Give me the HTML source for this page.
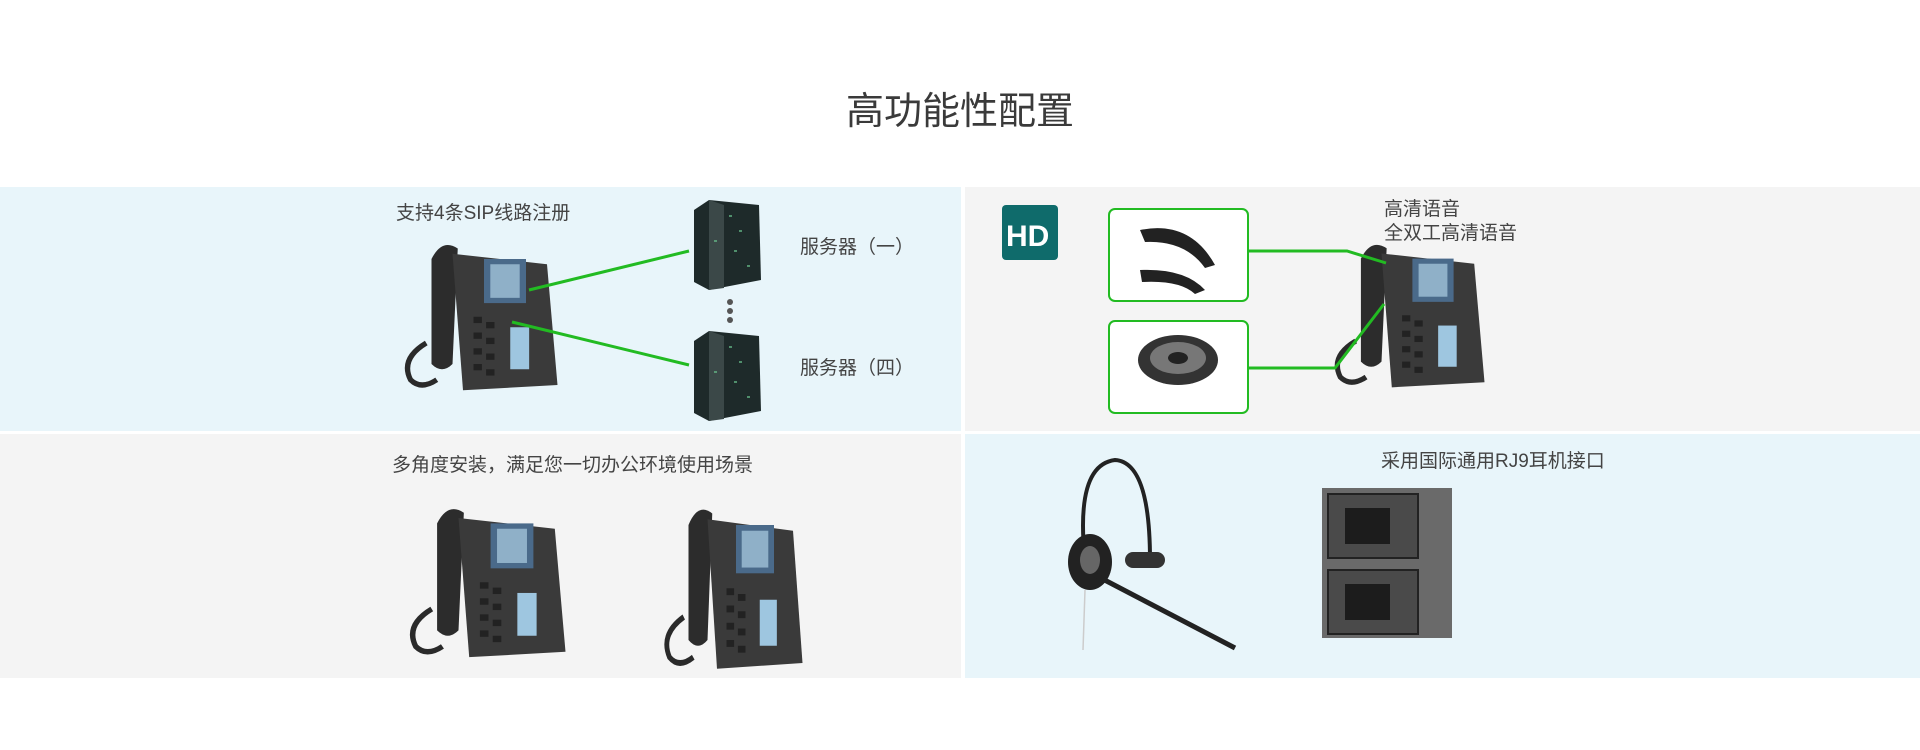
<!DOCTYPE html>
<html><head><meta charset="utf-8"><style>
html,body{margin:0;padding:0;background:#fff;}
body{width:1920px;height:750px;position:relative;overflow:hidden;font-family:"Liberation Sans","Noto Sans CJK SC",sans-serif;}
.t{position:absolute;color:#444;white-space:nowrap;}
.p{position:absolute;}
</style></head><body>
<div class="t" style="left:0;width:1920px;text-align:center;top:80px;font-size:38px;color:#3a3a3a;">高功能性配置</div>
<div class="p" style="left:0;top:187px;width:961px;height:244px;background:#e8f5fa"></div>
<div class="p" style="left:965px;top:187px;width:955px;height:244px;background:#f4f4f4"></div>
<div class="p" style="left:0;top:434px;width:961px;height:244px;background:#f4f4f4"></div>
<div class="p" style="left:965px;top:434px;width:955px;height:244px;background:#e8f5fa"></div>

<div class="t" style="left:396px;top:198px;font-size:19px;">支持4条SIP线路注册</div>
<div class="t" style="left:800px;top:232px;font-size:19px;">服务器（一）</div>
<div class="t" style="left:800px;top:353px;font-size:19px;">服务器（四）</div>
<div class="t" style="left:1384px;top:194px;font-size:19px;">高清语音</div>
<div class="t" style="left:1384px;top:218px;font-size:19px;">全双工高清语音</div>
<div class="t" style="left:392px;top:450px;font-size:19px;">多角度安装，满足您一切办公环境使用场景</div>
<div class="t" style="left:1381px;top:446px;font-size:19px;">采用国际通用RJ9耳机接口</div>

<svg class="p" style="left:0;top:0" width="1920" height="750">
<defs>
<g id="phone">
 <path d="M30 20 Q40 0 55 10 L50 120 Q40 130 30 120 Z" fill="#2c2c2c"/>
 <path d="M50 15 L140 25 L150 140 L60 145 Z" fill="#3a3a3a"/>
 <rect x="80" y="20" width="40" height="42" fill="#4a6a8a"/>
 <rect x="86" y="25" width="28" height="32" fill="#8fb0c8"/>
 <rect x="105" y="85" width="18" height="40" fill="#9ec6e0"/>
 <g fill="#222"><rect x="70" y="75" width="8" height="6"/><rect x="82" y="80" width="8" height="6"/><rect x="70" y="90" width="8" height="6"/><rect x="82" y="95" width="8" height="6"/><rect x="70" y="105" width="8" height="6"/><rect x="82" y="110" width="8" height="6"/><rect x="70" y="120" width="8" height="6"/><rect x="82" y="125" width="8" height="6"/></g>
 <path d="M25 100 Q0 115 10 135 Q20 145 35 135" stroke="#2a2a2a" stroke-width="5" fill="none"/>
</g>
<g id="server">
 <path d="M5 10 L20 0 L70 5 L72 80 L20 90 L5 82 Z" fill="#1e2a2a"/>
 <path d="M20 0 L35 5 L35 88 L20 90 Z" fill="#3b4848"/>
 <g fill="#6b8" opacity=".7"><rect x="40" y="15" width="3" height="2"/><rect x="50" y="30" width="3" height="2"/><rect x="45" y="50" width="3" height="2"/><rect x="58" y="65" width="3" height="2"/><rect x="25" y="40" width="3" height="2"/></g>
</g>
</defs>
<use href="#phone" transform="translate(400,238) scale(1.05)"/>
<use href="#server" transform="translate(689,200)"/>
<use href="#server" transform="translate(689,331)"/>
<circle cx="730" cy="302" r="3" fill="#555"/><circle cx="730" cy="311" r="3" fill="#555"/><circle cx="730" cy="320" r="3" fill="#555"/>
<line x1="529" y1="290" x2="689" y2="251" stroke="#22bb22" stroke-width="3"/>
<line x1="512" y1="322" x2="689" y2="365" stroke="#22bb22" stroke-width="3"/>

<rect x="1002" y="205" width="56" height="55" rx="4" fill="#0f6b6b"/>
<text x="1006" y="246" font-family="Liberation Sans" font-weight="bold" font-size="30" fill="#fff">HD</text>
<rect x="1109" y="209" width="139" height="92" rx="6" fill="#fff" stroke="#22bb22" stroke-width="2"/>
<rect x="1109" y="321" width="139" height="92" rx="6" fill="#fff" stroke="#22bb22" stroke-width="2"/>
<path d="M1140 230 Q1190 220 1215 265 L1205 268 Q1185 240 1145 242 Z" fill="#222"/>
<path d="M1140 270 Q1185 268 1205 290 L1195 294 Q1180 280 1142 282 Z" fill="#222"/>
<ellipse cx="1178" cy="360" rx="40" ry="25" fill="#333"/><ellipse cx="1178" cy="358" rx="28" ry="16" fill="#777"/><ellipse cx="1178" cy="358" rx="10" ry="6" fill="#222"/>
<use href="#phone" transform="translate(1330,238) scale(1.03)"/>
<polyline points="1248,251 1347,251 1386,263" stroke="#22bb22" stroke-width="3" fill="none"/>
<polyline points="1248,368 1335,368 1384,304" stroke="#22bb22" stroke-width="3" fill="none"/>

<use href="#phone" transform="translate(405,502) scale(1.07)"/>
<use href="#phone" transform="translate(660,502) scale(0.95,1.15)"/>

<path d="M1085 560 Q1075 465 1115 460 Q1150 462 1150 560" stroke="#222" stroke-width="4" fill="none"/>
<ellipse cx="1090" cy="562" rx="22" ry="28" fill="#222"/><ellipse cx="1090" cy="560" rx="10" ry="14" fill="#666"/>
<rect x="1125" y="552" width="40" height="16" rx="8" fill="#333"/>
<line x1="1095" y1="575" x2="1235" y2="648" stroke="#222" stroke-width="5"/>
<line x1="1085" y1="590" x2="1083" y2="650" stroke="#ccc" stroke-width="1.5"/>
<rect x="1322" y="488" width="130" height="150" fill="#6a6a6a"/>
<rect x="1328" y="494" width="90" height="64" fill="#4a4a4a" stroke="#222" stroke-width="2"/>
<rect x="1328" y="570" width="90" height="64" fill="#4a4a4a" stroke="#222" stroke-width="2"/>
<rect x="1345" y="508" width="45" height="36" fill="#1c1c1c"/>
<rect x="1345" y="584" width="45" height="36" fill="#1c1c1c"/>
</svg>
</body></html>
